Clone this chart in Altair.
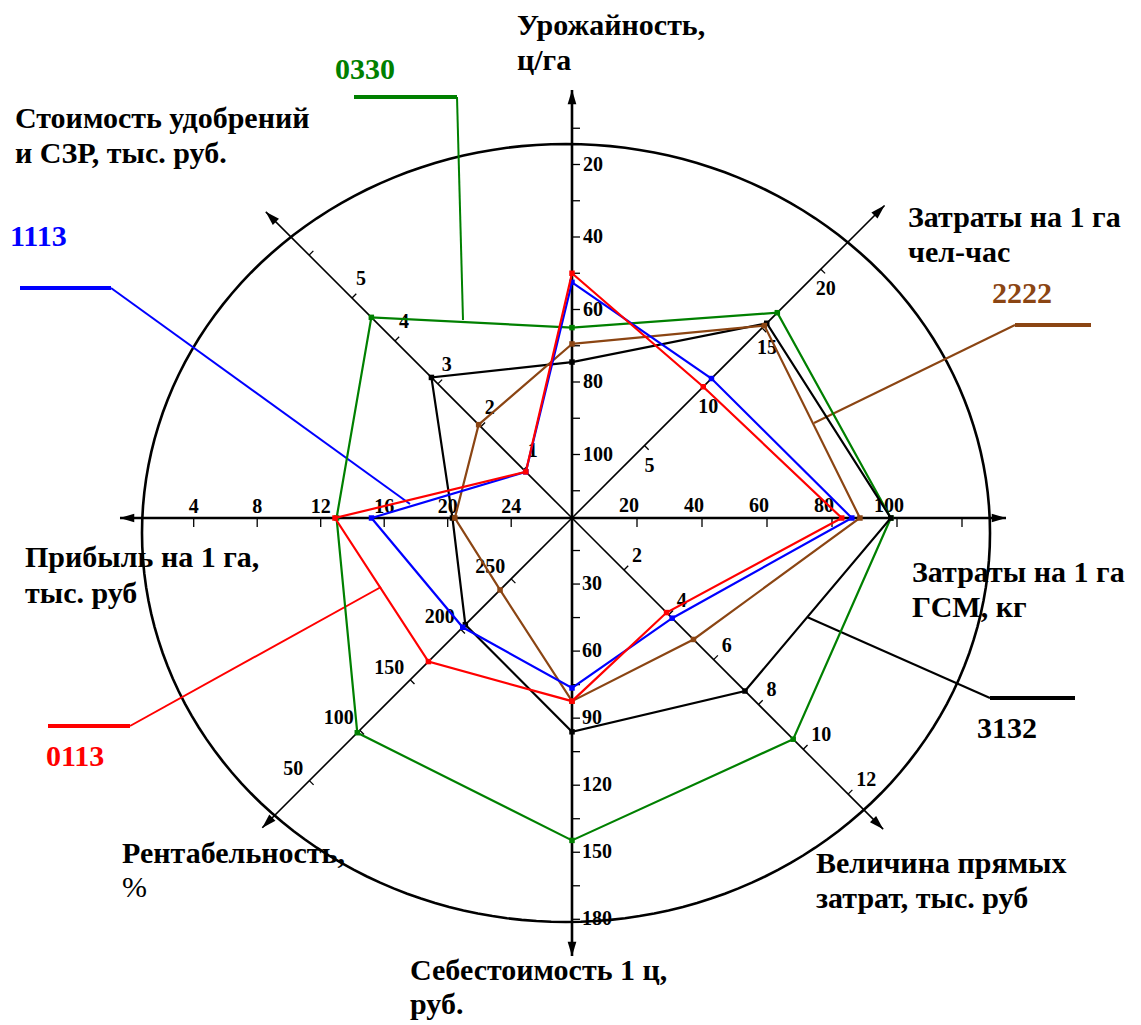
import altair as alt
import pandas as pd

# ---------------- data ----------------
axis_names = ["Урожайность, ц/га", "Затраты на 1 га чел-час", "Затраты на 1 га ГСМ, кг",
              "Величина прямых затрат, тыс. руб", "Себестоимость 1 ц, руб.",
              "Рентабельность, %", "Прибыль на 1 га, тыс. руб",
              "Стоимость удобрений и СЗР, тыс. руб."]

series_names = ["0330", "3132", "2222", "1113", "0113"]
series_colors = ["#008000", "#000000", "#8B4513", "#0000FF", "#FF0000"]

values_0330 = [65.0, 16.3, 98.1, 9.55, 144.7, 97.5, 13.0, 4.55]
values_3132 = [74.5, 15.4, 98.1, 7.40, 96.1, 204.6, 20.3, 3.15]
values_2222 = [69.5, 15.2, 88.6, 5.10, 82.4, 239.0, 20.45, 2.05]
values_1113 = [52.5, 10.7, 86.1, 4.15, 76.5, 202.0, 15.2, 0.95]
values_0113 = [50.0, 10.0, 83.0, 3.90, 82.4, 168.0, 12.9, 0.95]
series_values = [values_0330, values_3132, values_2222, values_1113, values_0113]

tick_values = [
    [10, 20, 30, 40, 50, 60, 70, 80, 90, 100, 110],
    [5, 10, 15, 20],
    [20, 40, 60, 80, 100, 120],
    [2, 4, 6, 8, 10, 12],
    [15, 30, 45, 60, 75, 90, 105, 120, 135, 150, 165, 180],
    [50, 100, 150, 200, 250],
    [4, 8, 12, 16, 20, 24],
    [1, 2, 3, 4, 5, 6],
]
tick_labels = [
    [20, 40, 60, 80, 100],
    [5, 10, 15, 20],
    [20, 40, 60, 80, 100],
    [2, 4, 6, 8, 10, 12],
    [30, 60, 90, 120, 150, 180],
    [50, 100, 150, 200, 250],
    [4, 8, 12, 16, 20, 24],
    [1, 2, 3, 4, 5],
]

# ---------------- layout (positions / styles) ----------------
CX, CY = 572, 518
geom = pd.DataFrame({
    "axis": list(range(8)),
    "ang": [90, 45, 0, -45, -90, -135, 180, 135],
    "r0": [426, 19.3, 0, 10.1, -1, 442.8, 441.8, 7.6],
    "k": [-3.625, 16.63, 3.25, 31.7, 2.235, -1.427, -15.875, 60.7],
    "rtip": [428, 442, 434, 440, 438, 438, 452, 433],
    "sw": [2.6, 1.6, 2.6, 1.6, 2.6, 1.6, 2.6, 1.6],
    "tdx": [1, 0.707, 0, 0.707, 1, 0.707, 0, 0.707],
    "tdy": [0, 0.707, 1, -0.707, 0, 0.707, 1, -0.707],
    "tlen": [8, 6, 9, 6, 8, 6, 9, 6],
    "ldx": [11, 5, -8, 8, 10, -6, 0, 9],
    "ldy": [0, 20, -12, -14, 0, -12, -11, -19],
    "lalign": ["left", "center", "center", "left", "left", "right", "center", "center"],
})

title_lines = pd.DataFrame([
    ("Урожайность,", 517, 35, "bold"), ("ц/га", 517, 70, "bold"),
    ("Стоимость удобрений", 15, 128, "bold"), ("и СЗР, тыс. руб.", 15, 163, "bold"),
    ("Затраты на 1 га", 908, 227, "bold"), ("чел-час", 908, 262, "bold"),
    ("Прибыль на 1 га,", 25, 567, "bold"), ("тыс. руб", 25, 603, "bold"),
    ("Затраты на 1 га", 912, 582, "bold"), ("ГСМ, кг", 912, 617, "bold"),
    ("Рентабельность,", 122, 863, "bold"), ("%", 122, 897, "normal"),
    ("Величина прямых", 816, 873, "bold"), ("затрат, тыс. руб", 816, 908, "bold"),
    ("Себестоимость 1 ц,", 410, 980, "bold"), ("руб.", 410, 1014, "bold"),
], columns=["text", "x", "y", "w"])

callouts = pd.DataFrame({
    "name": ["0330", "1113", "2222", "3132", "0113"],
    "tx": [335, 10, 992, 977, 46], "ty": [79, 246, 303, 738, 766],
    "ax": [354, 20, 1091, 1075, 48], "ay": [97, 288, 325, 698, 726],
    "bx": [457, 111, 1015, 990, 130], "by": [97, 288, 325, 698, 726],
    "cx": [463, 410, 814, 807, 381], "cy": [320, 504, 423, 617, 587],
})
color_of = dict(zip(series_names, series_colors))
callouts["col"] = callouts["name"].map(color_of)

# ---------------- tables ----------------
rows = []
for s, vals in zip(series_names, series_values):
    for i, v in enumerate(vals):
        rows.append({"series": s, "axis": i, "value": v})
series_df = pd.DataFrame(rows).merge(geom, on="axis")

trows = []
for i, (tv, tl) in enumerate(zip(tick_values, tick_labels)):
    for v in tv:
        trows.append({"axis": i, "value": v, "label": str(v) if v in tl else ""})
ticks_df = pd.DataFrame(trows).merge(geom, on="axis")

xs = alt.Scale(domain=[8, 1133], nice=False, zero=False)
ys = alt.Scale(domain=[8, 1022], nice=False, zero=False, reverse=True)

def X(f):
    return alt.X(f, type="quantitative", scale=xs, axis=None)

def Y(f):
    return alt.Y(f, type="quantitative", scale=ys, axis=None)

pos_calc = dict(
    rr="datum.r0 + datum.k * datum.value",
    px=f"{CX} + datum.rr * cos(datum.ang * PI / 180)",
    py=f"{CY} - datum.rr * sin(datum.ang * PI / 180)",
)

FONT = "Liberation Serif"
TITLE_SIZE = 30

# ellipse (outer ring)
ring = alt.Chart(alt.sequence(0, 362, 2, as_="t")).transform_calculate(
    ex="566 + 424 * cos(datum.t * PI / 180)",
    ey="533 + 389 * sin(datum.t * PI / 180)",
).mark_line(color="black", strokeWidth=2.6).encode(
    x=X("ex"), y=Y("ey"), order="t:Q")

# axes lines
axis_lines = alt.Chart(geom).transform_calculate(
    x0=f"{CX}", y0=f"{CY}",
    x1=f"{CX} + datum.rtip * cos(datum.ang * PI / 180)",
    y1=f"{CY} - datum.rtip * sin(datum.ang * PI / 180)",
).mark_rule(color="black").encode(
    x=X("x0"), y=Y("y0"), x2="x1:Q", y2="y1:Q",
    strokeWidth=alt.StrokeWidth("sw:Q", scale=None))

arrows = alt.Chart(geom).transform_calculate(
    ax=f"{CX} + (datum.rtip - 7) * cos(datum.ang * PI / 180)",
    ay=f"{CY} - (datum.rtip - 7) * sin(datum.ang * PI / 180)",
    rot="(450 - datum.ang) % 360",
).mark_point(shape="M0,-1L0.6,1L-0.6,1Z", filled=True, color="black",
             opacity=1, size=210).encode(
    x=X("ax"), y=Y("ay"), angle=alt.Angle("rot:Q", scale=None))

tick_marks = alt.Chart(ticks_df).transform_calculate(**pos_calc).transform_calculate(
    px2="datum.px + datum.tdx * datum.tlen",
    py2="datum.py + datum.tdy * datum.tlen",
).mark_rule(color="black", strokeWidth=1.3).encode(
    x=X("px"), y=Y("py"), x2="px2:Q", y2="py2:Q")

label_layers = []
for al in ["left", "center", "right"]:
    label_layers.append(
        alt.Chart(ticks_df).transform_filter(
            f"datum.lalign == '{al}' && datum.label != ''"
        ).transform_calculate(**pos_calc).transform_calculate(
            lx="datum.px + datum.ldx", ly="datum.py + datum.ldy"
        ).mark_text(align=al, baseline="middle", font=FONT, fontWeight="bold",
                    fontSize=20, color="black").encode(
            x=X("lx"), y=Y("ly"), text="label:N"))

series_layers = []
for s, c in zip(series_names, series_colors):
    sd = series_df[series_df["series"] == s]
    base = alt.Chart(sd).transform_calculate(**pos_calc)
    series_layers.append(base.mark_line(color=c, strokeWidth=2.2, interpolate="linear-closed").encode(
        x=X("px"), y=Y("py"), order="axis:Q"))
    series_layers.append(base.mark_square(color=c, size=30, opacity=1).encode(
        x=X("px"), y=Y("py")))

lead_thick = alt.Chart(callouts).mark_rule(strokeWidth=4).encode(
    x=X("ax"), y=Y("ay"), x2="bx:Q", y2="by:Q",
    color=alt.Color("col:N", scale=None))
lead_thin = alt.Chart(callouts).mark_rule(strokeWidth=2).encode(
    x=X("bx"), y=Y("by"), x2="cx:Q", y2="cy:Q",
    color=alt.Color("col:N", scale=None))
lead_text = alt.Chart(callouts).mark_text(align="left", baseline="alphabetic", font=FONT,
                                          fontWeight="bold", fontSize=30).encode(
    x=X("tx"), y=Y("ty"), text="name:N", color=alt.Color("col:N", scale=None))

titles_bold = alt.Chart(title_lines[title_lines["w"] == "bold"]).mark_text(
    align="left", baseline="alphabetic", font=FONT, fontWeight="bold", fontSize=TITLE_SIZE,
    color="black").encode(x=X("x"), y=Y("y"), text="text:N")
titles_norm = alt.Chart(title_lines[title_lines["w"] == "normal"]).mark_text(
    align="left", baseline="alphabetic", font=FONT, fontWeight="normal", fontSize=TITLE_SIZE,
    color="black").encode(x=X("x"), y=Y("y"), text="text:N")

chart = alt.layer(
    ring, axis_lines, arrows, tick_marks, *label_layers,
    lead_thick, lead_thin, *series_layers, lead_text, titles_bold, titles_norm
).properties(
    width=1125, height=1014, padding=0, autosize="none", background="white"
).configure_view(stroke=None)

chart.save("out.html", embed_options={"renderer": "svg", "actions": False})
